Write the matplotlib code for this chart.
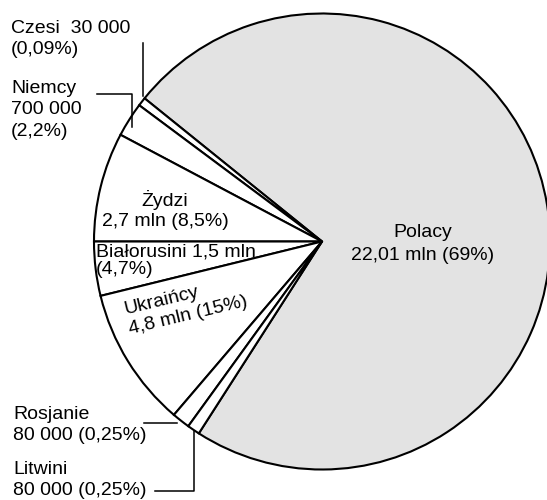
import matplotlib.pyplot as plt

plt.rcParams['font.family'] = ['Liberation Sans', 'DejaVu Sans']

# wedges as drawn in the picture (degrees, counter-clockwise from Polacy)
narody = ['Polacy', 'Czesi', 'Niemcy', 'Żydzi', 'Białorusini', 'Ukraińcy', 'Rosjanie', 'Litwini']
katy = [263.8, 2.2, 8.8, 27.9, 13.8, 35.7, 4.6, 3.2]
kolory = ['#e3e3e3', 'white', 'white', 'white', 'white', 'white', 'white', 'white']

opisy = {
    'Polacy': 'Polacy\n22,01 mln (69%)',
    'Czesi': 'Czesi  30 000\n(0,09%)',
    'Niemcy': 'Niemcy\n700 000\n(2,2%)',
    'Żydzi': 'Żydzi\n2,7 mln (8,5%)',
    'Białorusini': 'Białorusini 1,5 mln\n(4,7%)',
    'Ukraińcy': 'Ukraińcy\n4,8 mln (15%)',
    'Rosjanie': 'Rosjanie\n80 000 (0,25%)',
    'Litwini': 'Litwini\n80 000 (0,25%)',
}

W, H = 547, 500
fig = plt.figure(figsize=(W / 100, H / 100), dpi=100)
ax = fig.add_axes([0, 0, 1, 1])

def Y(y):
    return H - y

ax.pie(katy, colors=kolory, startangle=237.3, counterclock=True,
       center=(322, Y(241.5)), radius=228,
       wedgeprops=dict(edgecolor='black', linewidth=1.5))
ax.set_xlim(0, W)
ax.set_ylim(0, H)
ax.set_aspect('auto')
ax.axis('off')

fs = 14
ax.text(423, Y(244), opisy['Polacy'], fontsize=fs, ha='center', va='center', linespacing=1.4)
ax.text(11, Y(39), opisy['Czesi'], fontsize=fs, ha='left', va='center', linespacing=1.33)
ax.text(11, Y(110), opisy['Niemcy'], fontsize=fs, ha='left', va='center', linespacing=1.33)
ax.text(165, Y(210), opisy['Żydzi'], fontsize=fs, ha='center', va='center', linespacing=1.27)
ax.text(96, Y(260.5), opisy['Białorusini'], fontsize=fs, ha='left', va='center', linespacing=1.02)
ax.text(127, Y(320), opisy['Ukraińcy'], fontsize=fs, ha='left', va='center',
        linespacing=1.27, rotation=13.5, rotation_mode='anchor')
ax.text(13, Y(425), opisy['Rosjanie'], fontsize=fs, ha='left', va='center', linespacing=1.33)
ax.text(13, Y(480), opisy['Litwini'], fontsize=fs, ha='left', va='center', linespacing=1.33)

# linie odnoszace
lw = 1.1
ax.plot([143, 143], [Y(43), Y(96)], color='black', lw=lw)
ax.plot([97, 132, 132], [Y(94), Y(94), Y(127)], color='black', lw=lw)
ax.plot([144, 177], [Y(423), Y(423)], color='black', lw=lw)
ax.plot([155, 194, 194], [Y(491), Y(491), Y(431)], color='black', lw=lw)

fig.savefig('out.png', dpi=100)
